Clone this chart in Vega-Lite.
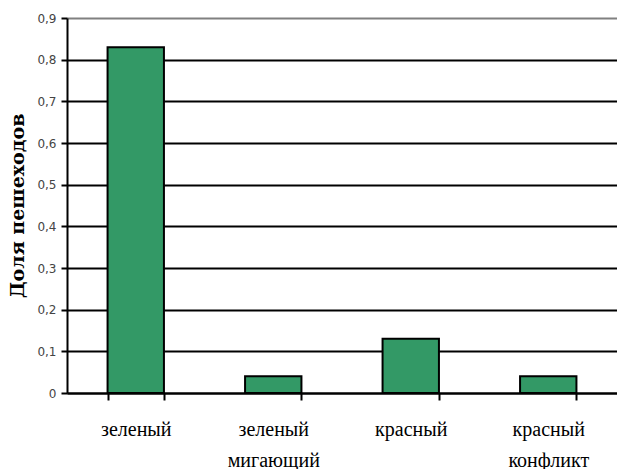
{
  "$schema": "https://vega.github.io/schema/vega-lite/v6.json",
  "width": 550,
  "height": 375,
  "autosize": {"type": "none"},
  "padding": {"left": 67, "top": 18, "right": 0, "bottom": 76},
  "background": "white",
  "config": {
    "view": {"stroke": null},
    "axis": {"domainColor": "black", "tickColor": "black"}
  },
  "data": {
    "values": [
      {"signal": "зеленый", "share": 0.83},
      {"signal": "зеленый мигающий", "share": 0.04},
      {"signal": "красный", "share": 0.13},
      {"signal": "красный конфликт", "share": 0.04}
    ]
  },
  "mark": {"type": "bar", "fill": "#339966", "stroke": "black", "strokeWidth": 2},
  "encoding": {
    "x": {
      "field": "signal",
      "type": "nominal",
      "sort": null,
      "scale": {"paddingInner": 0.59, "paddingOuter": 0.295},
      "axis": {
        "title": null,
        "labelAngle": 0,
        "labelExpr": "split(datum.label, ' ')",
        "labelFont": "'Liberation Serif', 'Times New Roman', serif",
        "labelFontSize": 20,
        "labelColor": "black",
        "labelLineHeight": 31,
        "labelBaseline": "top",
        "labelPadding": 19,
        "tickBand": "extent",
        "tickSize": 7,
        "tickWidth": 2,
        "domainWidth": 2,
        "grid": false
      }
    },
    "y": {
      "field": "share",
      "type": "quantitative",
      "scale": {"domain": [0, 0.9], "nice": false},
      "axis": {
        "title": "Доля пешеходов",
        "titleFont": "'DejaVu Serif', serif",
        "titleFontSize": 19,
        "titleFontWeight": "bold",
        "titleColor": "black",
        "titlePadding": 9,
        "values": [0, 0.1, 0.2, 0.3, 0.4, 0.5, 0.6, 0.7, 0.8, 0.9],
        "labelExpr": "datum.value == 0 ? '0' : replace(format(datum.value, '.1f'), '.', ',')",
        "labelFont": "'DejaVu Sans', sans-serif",
        "labelFontSize": 12,
        "labelColor": "#444444",
        "labelPadding": 5,
        "tickSize": 6,
        "tickWidth": 2,
        "domainWidth": 2,
        "grid": true,
        "gridWidth": 2,
        "gridColor": {"condition": {"test": "datum.value >= 0.9", "value": "#808080"}, "value": "black"}
      }
    }
  }
}
